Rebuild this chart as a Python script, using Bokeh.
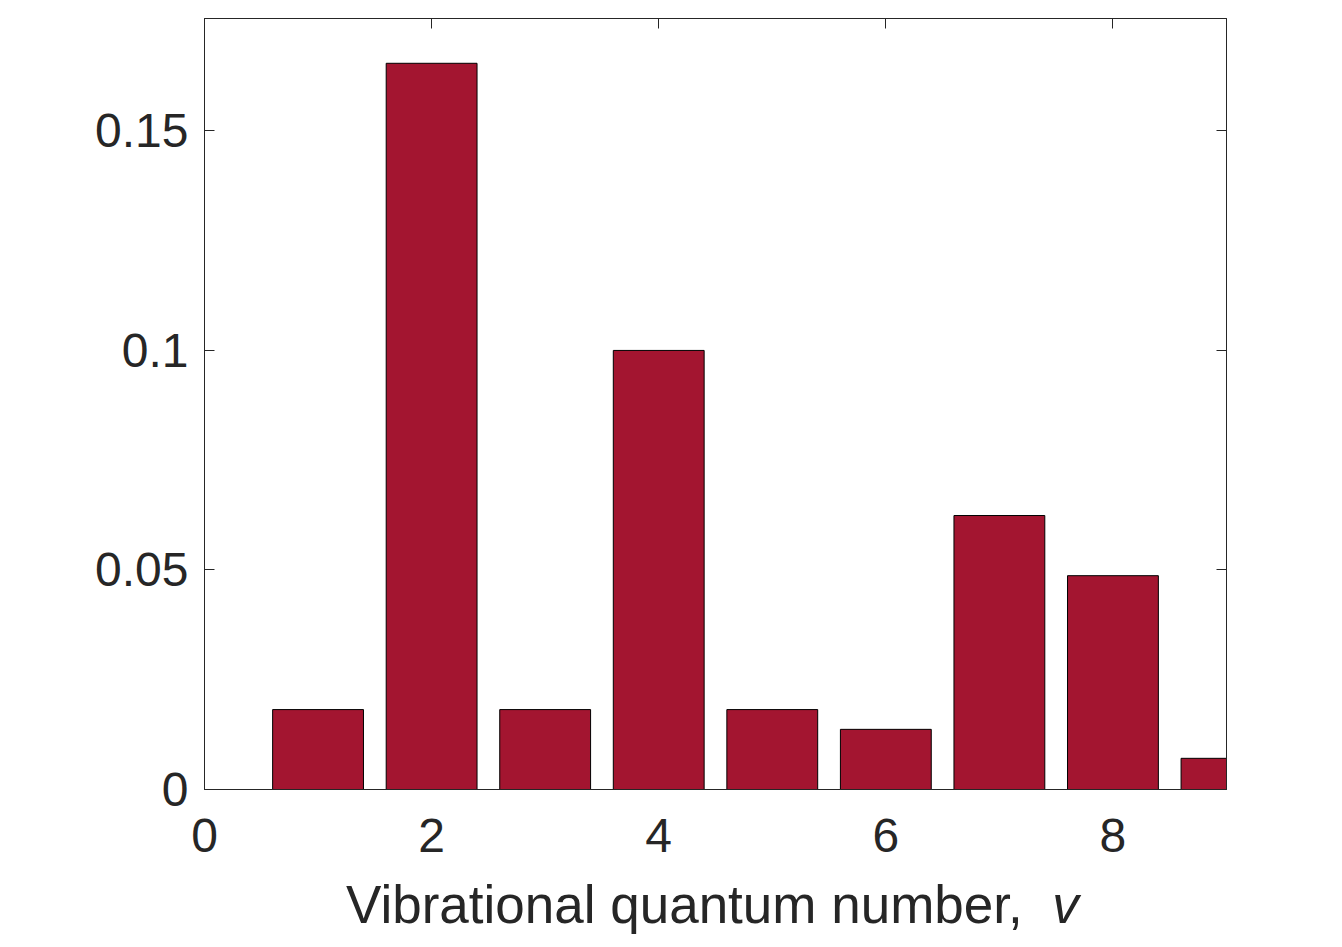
from bokeh.plotting import figure
from bokeh.models import Range1d, LinearAxis, FixedTicker, CustomJSTickFormatter, Div
from bokeh.layouts import column
from bokeh.embed import file_html
from bokeh.resources import INLINE

# data
levels = [1, 2, 3, 4, 5, 6, 7, 8, 9]
populations = [0.0182, 0.1654, 0.0182, 0.1000, 0.0182, 0.0137, 0.0624, 0.0487, 0.0071]
x_ticks = [0, 2, 4, 6, 8]
y_ticks = [0, 0.05, 0.1, 0.15]
x_title = "Vibrational quantum number,"
x_title_symbol = "v"

FONT = "Liberation Sans"
TXT = "#262626"

p = figure(width=1334, height=875, output_backend="svg", toolbar_location=None,
           x_range=Range1d(0, 9), y_range=Range1d(0, 0.1756),
           min_border_left=204, min_border_right=108, min_border_top=18, min_border_bottom=86,
           x_axis_location=None, y_axis_location=None)
p.grid.visible = False
p.outline_line_color = TXT
p.outline_line_width = 1
p.background_fill_color = "white"
p.border_fill_color = "white"

p.vbar(x=levels, top=populations, width=0.8, bottom=0,
       fill_color="#A31530", line_color="black", line_width=1)

fmt = CustomJSTickFormatter(code="return String(Number(tick.toPrecision(6)));")

def style(ax, labels=True, ticks=True):
    ax.axis_line_color = TXT
    ax.minor_tick_line_color = None
    ax.major_tick_in = 10
    ax.major_tick_out = 0
    ax.major_tick_line_color = TXT if ticks else None
    if labels:
        ax.major_label_text_font = FONT
        ax.major_label_text_font_size = "48px"
        ax.major_label_text_color = TXT
    else:
        ax.major_label_text_font_size = "0px"
        ax.major_label_text_color = None

bottom = LinearAxis(ticker=FixedTicker(ticks=x_ticks), formatter=fmt)
style(bottom, labels=True, ticks=False)
bottom.major_label_standoff = 29
p.add_layout(bottom, "below")

left = LinearAxis(ticker=FixedTicker(ticks=y_ticks), formatter=fmt)
style(left)
left.major_label_standoff = 16
p.add_layout(left, "left")

top = LinearAxis(ticker=FixedTicker(ticks=x_ticks), formatter=fmt)
style(top, labels=False)
p.add_layout(top, "above")

right = LinearAxis(ticker=FixedTicker(ticks=y_ticks), formatter=fmt)
style(right, labels=False)
p.add_layout(right, "right")

title_html = (
    f'<div style="font-family:\'{FONT}\';font-size:53px;line-height:60px;color:{TXT};'
    f'white-space:nowrap;">{x_title}&nbsp;&nbsp;<i>{x_title_symbol}</i></div>'
)
xlabel = Div(text=title_html, width=900, height=60, margin=(0, 0, 0, 346))

layout = column(p, xlabel, spacing=0)

open("out.html", "w").write(file_html(layout, INLINE))
